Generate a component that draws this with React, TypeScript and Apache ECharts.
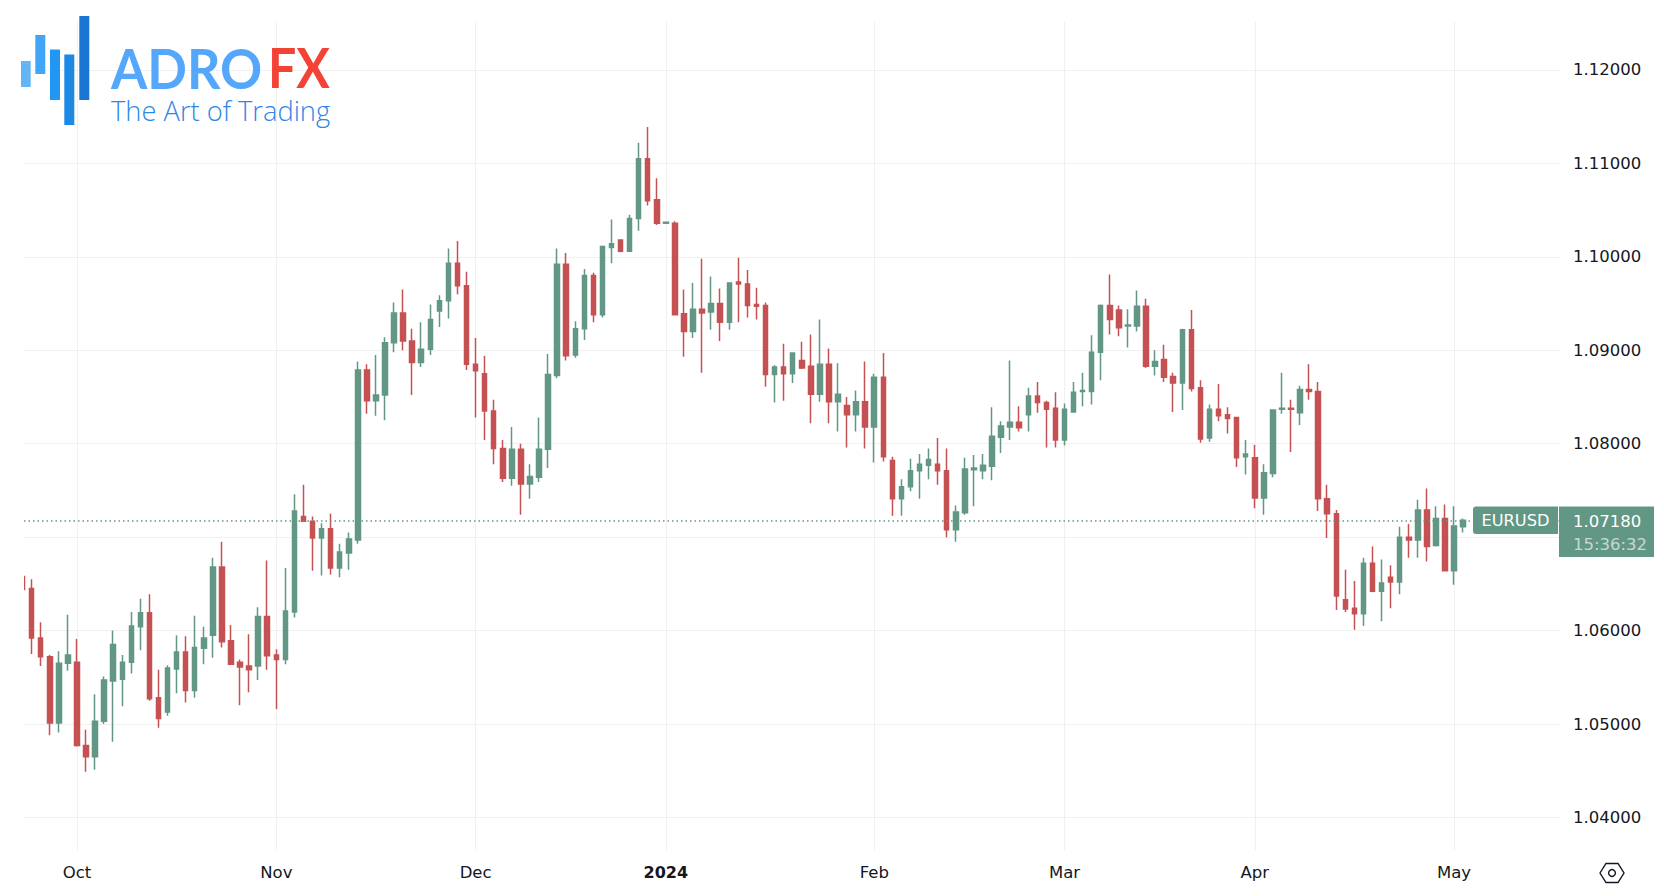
import React, { useEffect, useRef } from "react";
import * as echarts from "echarts";

const opens = [
  1.0658,1.0645,1.0592,1.0572,1.0501,1.0565,1.0566,1.0477,1.0465,1.0503,
  1.0546,1.0548,1.0566,1.0604,1.0619,1.0528,1.0513,1.0559,1.0577,1.0536,
  1.0581,1.0595,1.0668,1.0589,1.0566,1.0562,1.0562,1.0615,1.0574,1.0569,
  1.0620,1.0722,1.0717,1.0699,1.0709,1.0667,1.0683,1.0697,1.0879,1.0846,
  1.0852,1.0908,1.0940,1.0910,1.0887,1.0901,1.0942,1.0953,1.0993,1.0969,
  1.0885,1.0875,1.0835,1.0795,1.0763,1.0794,1.0757,1.0764,1.0794,1.0873,
  1.0992,1.0895,1.0923,1.0980,1.0938,1.1010,1.1018,1.1006,1.1041,1.1105,
  1.1061,1.1036,1.1036,1.0939,1.0920,1.0944,1.0941,1.0950,1.0930,1.0973,
  1.0971,1.0949,1.0948,1.0874,1.0882,1.0875,1.0889,1.0883,1.0853,1.0885,
  1.0845,1.0841,1.0831,1.0845,1.0818,1.0871,1.0782,1.0741,1.0754,1.0771,
  1.0777,1.0778,1.0771,1.0708,1.0726,1.0772,1.0771,1.0776,1.0807,1.0818,
  1.0823,1.0831,1.0851,1.0844,1.0838,1.0804,1.0834,1.0856,1.0856,1.0898,
  1.0948,1.0943,1.0926,1.0926,1.0947,1.0883,1.0890,1.0872,1.0865,1.0922,
  1.0860,1.0806,1.0837,1.0831,1.0828,1.0786,1.0785,1.0742,1.0768,1.0837,
  1.0838,1.0833,1.0858,1.0856,1.0741,1.0725,1.0633,1.0624,1.0618,1.0672,
  1.0642,1.0657,1.0652,1.0700,1.0697,1.0729,1.0691,1.0720,1.0664,1.0711,
];
const closes = [
  1.0644,1.0592,1.0572,1.0501,1.0565,1.0574,1.0477,1.0465,1.0503,1.0547,
  1.0585,1.0566,1.0605,1.0619,1.0527,1.0506,1.0560,1.0577,1.0536,1.0582,
  1.0592,1.0668,1.0588,1.0564,1.0561,1.0558,1.0615,1.0573,1.0569,1.0621,
  1.0728,1.0717,1.0699,1.0709,1.0667,1.0684,1.0698,1.0879,1.0846,1.0852,
  1.0908,1.0940,1.0910,1.0887,1.0901,1.0933,1.0953,1.0993,1.0969,1.0885,
  1.0878,1.0835,1.0795,1.0763,1.0794,1.0757,1.0765,1.0794,1.0874,1.0992,
  1.0894,1.0923,1.0980,1.0938,1.1011,1.1014,1.1006,1.1041,1.1105,1.1060,
  1.1036,1.1037,1.0938,1.0920,1.0944,1.0940,1.0950,1.0930,1.0972,1.0971,
  1.0948,1.0947,1.0874,1.0882,1.0875,1.0897,1.0881,1.0853,1.0885,1.0845,
  1.0853,1.0831,1.0845,1.0818,1.0871,1.0786,1.0741,1.0754,1.0771,1.0778,
  1.0783,1.0771,1.0708,1.0727,1.0773,1.0774,1.0777,1.0808,1.0819,1.0823,
  1.0817,1.0851,1.0844,1.0837,1.0804,1.0837,1.0855,1.0857,1.0898,1.0948,
  1.0933,1.0924,1.0927,1.0947,1.0883,1.0888,1.0871,1.0865,1.0922,1.0859,
  1.0805,1.0837,1.0830,1.0827,1.0785,1.0789,1.0742,1.0769,1.0836,1.0838,
  1.0837,1.0858,1.0856,1.0741,1.0725,1.0637,1.0623,1.0618,1.0672,1.0642,
  1.0651,1.0652,1.0700,1.0697,1.0729,1.0690,1.0720,1.0664,1.0712,1.0718,
];
const lows = [
  1.0642,1.0575,1.0562,1.0488,1.0491,1.0557,1.0476,1.0449,1.0451,1.0500,
  1.0481,1.0519,1.0554,1.0579,1.0525,1.0496,1.0509,1.0533,1.0523,1.0528,
  1.0564,1.0571,1.0582,1.0564,1.0520,1.0534,1.0547,1.0558,1.0516,1.0564,
  1.0614,1.0717,1.0664,1.0659,1.0660,1.0657,1.0665,1.0693,1.0832,1.0830,
  1.0825,1.0898,1.0900,1.0852,1.0882,1.0895,1.0925,1.0934,1.0960,1.0879,
  1.0828,1.0804,1.0778,1.0759,1.0755,1.0724,1.0741,1.0759,1.0774,1.0870,
  1.0889,1.0892,1.0911,1.0930,1.0935,1.0993,1.1005,1.1006,1.1028,1.1055,
  1.1034,1.1036,1.0938,1.0893,1.0913,1.0876,1.0922,1.0910,1.0922,1.0930,
  1.0935,1.0933,1.0861,1.0844,1.0846,1.0865,1.0880,1.0822,1.0845,1.0822,
  1.0813,1.0796,1.0813,1.0795,1.0780,1.0781,1.0723,1.0723,1.0749,1.0741,
  1.0762,1.0756,1.0700,1.0695,1.0724,1.0733,1.0762,1.0761,1.0790,1.0804,
  1.0813,1.0813,1.0833,1.0796,1.0796,1.0798,1.0834,1.0840,1.0842,1.0868,
  1.0917,1.0915,1.0903,1.0920,1.0881,1.0873,1.0866,1.0834,1.0836,1.0856,
  1.0801,1.0802,1.0824,1.0811,1.0775,1.0767,1.0731,1.0724,1.0764,1.0832,
  1.0791,1.0820,1.0847,1.0728,1.0699,1.0622,1.0620,1.0601,1.0605,1.0641,
  1.0610,1.0624,1.0639,1.0678,1.0678,1.0674,1.0690,1.0664,1.0649,1.0705,
];
const highs = [
  1.0660,1.0655,1.0609,1.0574,1.0578,1.0617,1.0591,1.0494,1.0532,1.0551,
  1.0600,1.0574,1.0620,1.0634,1.0639,1.0558,1.0563,1.0595,1.0594,1.0616,
  1.0604,1.0678,1.0695,1.0606,1.0569,1.0596,1.0625,1.0675,1.0580,1.0667,
  1.0746,1.0756,1.0722,1.0715,1.0725,1.0693,1.0705,1.0888,1.0885,1.0895,
  1.0914,1.0951,1.0965,1.0923,1.0930,1.0949,1.0959,1.1009,1.1017,1.0984,
  1.0913,1.0894,1.0847,1.0804,1.0818,1.0800,1.0778,1.0828,1.0896,1.1009,
  1.1004,1.0931,1.0987,1.0983,1.1012,1.1040,1.1018,1.1045,1.1122,1.1139,
  1.1084,1.1037,1.1038,1.0965,1.0972,1.0998,1.0979,1.0966,1.0972,1.0999,
  1.0986,1.0967,1.0951,1.0884,1.0907,1.0898,1.0909,1.0917,1.0933,1.0902,
  1.0886,1.0850,1.0857,1.0888,1.0875,1.0897,1.0786,1.0762,1.0784,1.0789,
  1.0795,1.0806,1.0795,1.0734,1.0785,1.0788,1.0789,1.0839,1.0824,1.0889,
  1.0840,1.0860,1.0866,1.0846,1.0855,1.0843,1.0866,1.0876,1.0916,1.0949,
  1.0981,1.0948,1.0944,1.0964,1.0955,1.0900,1.0906,1.0876,1.0923,1.0943,
  1.0868,1.0842,1.0864,1.0839,1.0828,1.0804,1.0799,1.0778,1.0837,1.0876,
  1.0847,1.0862,1.0885,1.0866,1.0756,1.0729,1.0665,1.0653,1.0678,1.0690,
  1.0676,1.0670,1.0711,1.0714,1.0740,1.0752,1.0733,1.0735,1.0733,1.0720,
];

const monthTicks = [6, 28, 50, 71, 94, 115, 136, 158];
const monthLabels = ["Oct", "Nov", "Dec", "2024", "Feb", "Mar", "Apr", "May"];
const priceTicks = [1.04, 1.05, 1.06, 1.07, 1.08, 1.09, 1.1, 1.11, 1.12];
// 1.07000 lies behind the last-price box in the reference, so it has no label
const priceLabels = [1.04, 1.05, 1.06, 1.08, 1.09, 1.1, 1.11, 1.12];
const lastPrice = 1.0718;
const symbolName = "EURUSD";
const countdown = "15:36:32";

const UP = "#629785";
const DOWN = "#C55153";
const GRID = "#F0F0F0";
const FONT = "'DejaVu Sans', sans-serif";

export default function App() {
  const ref = useRef<HTMLDivElement>(null);
  useEffect(() => {
    document.body.style.margin = "0";
    const chart = echarts.init(ref.current!, undefined, { renderer: "svg" });
    const bars = [
      { x: 21, y: 61, w: 9.7, h: 26, c: "#64B5F6" },
      { x: 35.3, y: 35, w: 10, h: 39, c: "#42A5F5" },
      { x: 50, y: 49.5, w: 10, h: 50.5, c: "#2196F3" },
      { x: 64.3, y: 54.5, w: 10, h: 70.5, c: "#1E88E5" },
      { x: 79.3, y: 16, w: 10, h: 84, c: "#1976D2" },
    ];
    chart.setOption({
      animation: false,
      backgroundColor: "#ffffff",
      grid: { left: 24, right: 104, top: 22, bottom: 46 },
      xAxis: {
        type: "value",
        min: 0.1545,
        max: 169.69,
        axisLine: { show: false },
        axisTick: { show: false, customValues: monthTicks },
        splitLine: { show: true, lineStyle: { color: GRID, width: 1 } },
        axisLabel: {
          customValues: monthTicks,
          margin: 14,
          fontFamily: FONT,
          fontSize: 16.5,
          color: "#131722",
          formatter: (v: number) => {
            const s = monthLabels[monthTicks.indexOf(v)];
            return s === "2024" ? "{year|2024}" : s;
          },
          rich: {
            year: { fontFamily: FONT, fontSize: 16, fontWeight: "bold", color: "#131722" },
          },
        },
      },
      yAxis: {
        type: "value",
        position: "right",
        min: 1.03652,
        max: 1.12513,
        axisLine: { show: false },
        axisTick: { show: false, customValues: priceTicks },
        splitLine: { show: true, lineStyle: { color: GRID, width: 1 } },
        axisLabel: {
          customValues: priceLabels,
          margin: 13,
          padding: [4, 0, 0, 0],
          fontFamily: FONT,
          fontSize: 16.5,
          color: "#131722",
          formatter: (v: number) => v.toFixed(5),
        },
      },
      series: [
        {
          type: "candlestick",
          barWidth: 5,
          clip: true,
          encode: { x: 0, y: [1, 2, 3, 4] },
          data: opens.map((o, i) => [i, o, closes[i], lows[i], highs[i]]),
          itemStyle: {
            color: UP,
            color0: DOWN,
            borderColor: UP,
            borderColor0: DOWN,
            borderWidth: 1.5,
          },
          markLine: {
            silent: true,
            symbol: "none",
            precision: 5,
            label: { show: false },
            lineStyle: { color: UP, type: [1.5, 3], width: 1.5 },
            data: [{ yAxis: lastPrice }],
          },
        },
      ],
      graphic: [
        // the pane's left edge hides the part of the first candle that lies outside it
        {
          type: "rect", z: 10,
          shape: { x: 0, y: 22, width: 24, height: 828 },
          style: { fill: "#ffffff" },
        },
        ...bars.map((b) => ({
          type: "rect",
          shape: { x: b.x, y: b.y, width: b.w, height: b.h },
          style: { fill: b.c },
          z: 20,
        })),
        {
          type: "text", x: 111, y: 67, z: 20, scaleX: 0.95,
          style: { text: "ADRO", fill: "#55A7FB", font: "700 55px Lato, sans-serif", textVerticalAlign: "middle" },
        },
        {
          type: "text", x: 268, y: 67, z: 20, scaleX: 0.91,
          style: { text: "FX", fill: "#F44336", font: "700 55px Lato, sans-serif", textVerticalAlign: "middle" },
        },
        {
          type: "text", x: 111, y: 110, z: 20,
          style: { text: "The Art of Trading", fill: "#2E86E6", font: "300 27.3px 'Open Sans', sans-serif", textVerticalAlign: "middle" },
        },
        {
          type: "rect", z: 20,
          shape: { x: 1473, y: 506.5, width: 85, height: 27.5, r: [3, 0, 0, 3] },
          style: { fill: UP },
        },
        {
          type: "text", x: 1515.5, y: 520.5, z: 21,
          style: { text: symbolName, fill: "#ffffff", font: `16.2px ${FONT}`, textAlign: "center", textVerticalAlign: "middle" },
        },
        {
          type: "rect", z: 20,
          shape: { x: 1559, y: 506.5, width: 95, height: 50.5 },
          style: { fill: UP },
        },
        {
          type: "text", x: 1573, y: 521, z: 21,
          style: { text: lastPrice.toFixed(5), fill: "#ffffff", font: `16.5px ${FONT}`, textVerticalAlign: "middle" },
        },
        {
          type: "text", x: 1573, y: 544, z: 21,
          style: { text: countdown, fill: "rgba(255,255,255,0.65)", font: `16.5px ${FONT}`, textVerticalAlign: "middle" },
        },
        {
          type: "polygon", z: 20,
          shape: { points: [[1600, 873], [1606, 863.5], [1618, 863.5], [1624, 873], [1618, 882.5], [1606, 882.5]] },
          style: { fill: "none", stroke: "#131722", lineWidth: 1.4 },
        },
        {
          type: "circle", z: 20,
          shape: { cx: 1612, cy: 873, r: 3.4 },
          style: { fill: "none", stroke: "#131722", lineWidth: 1.4 },
        },
      ],
    });
    return () => chart.dispose();
  }, []);
  return (
    <div
      ref={ref}
      style={{ position: "fixed", left: 0, top: 0, width: 1664, height: 896 }}
    />
  );
}
